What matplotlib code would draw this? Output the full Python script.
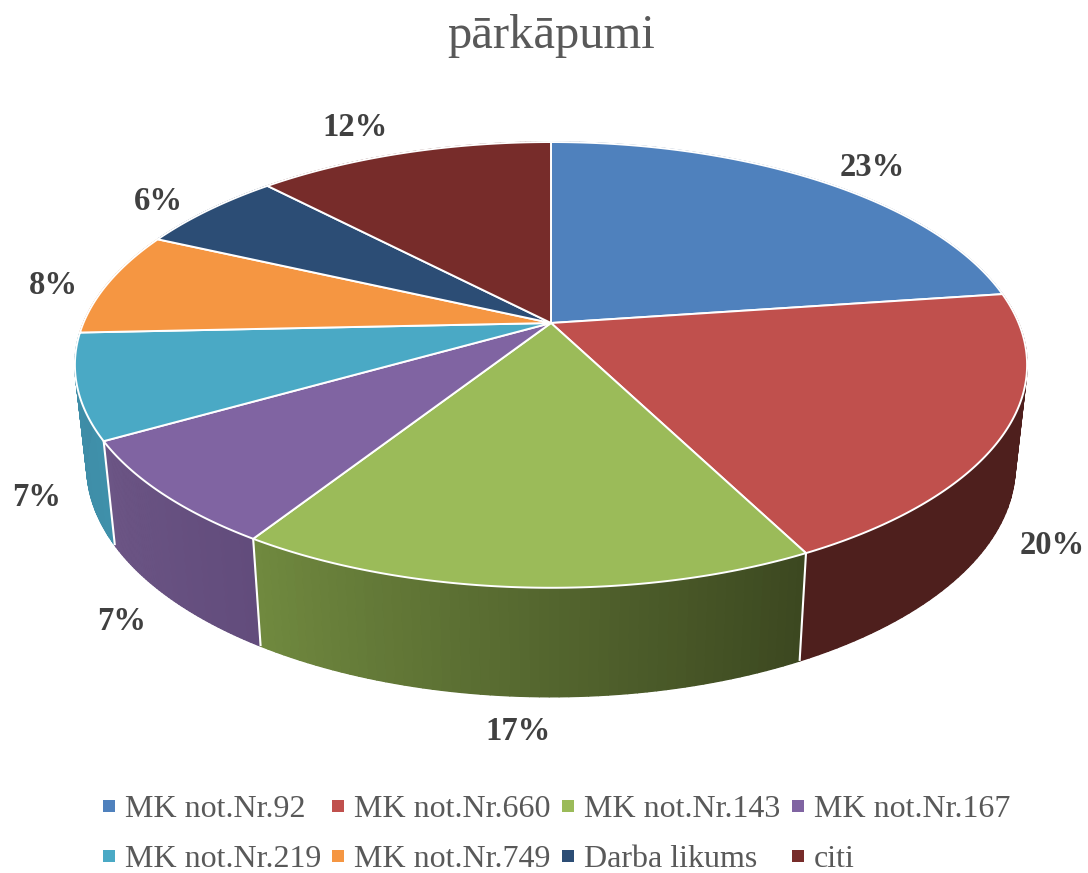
import numpy as np
import matplotlib
matplotlib.use("Agg")
import matplotlib.pyplot as plt
from matplotlib.collections import PolyCollection
from matplotlib.colors import to_rgb
from matplotlib.lines import Line2D
from matplotlib.patches import Polygon

# ---- data ----
title = "pārkāpumi"
categories = ["MK not.Nr.92", "MK not.Nr.660", "MK not.Nr.143", "MK not.Nr.167",
              "MK not.Nr.219", "MK not.Nr.749", "Darba likums", "citi"]
shares = [22.8, 19.7, 16.5, 7.7, 7.6, 7.6, 6.0, 12.1]
share_labels = ["23%", "20%", "17%", "7%", "7%", "8%", "6%", "12%"]

# ---- styles ----
colors = ["#4F81BD", "#C0504D", "#9BBB59", "#8064A2", "#4AA9C5", "#F59642", "#2C4D75", "#772C2A"]
side_start = ["#3A5F8B", "#4E1F1D", "#3C4820", "#624C7C", "#3F90AA", "#B56E30", "#20385A", "#571F1E"]
side_end = ["#3A5F8B", "#4E1F1D", "#70893F", "#6C5585", "#3E8CA6", "#B56E30", "#20385A", "#571F1E"]
label_xy = [(872, 167), (1052, 545), (518, 732), (122, 621), (37, 498), (53, 285), (158, 202), (355, 128)]
text_grey = "#595959"
label_grey = "#404040"
CX, CY = 551, 323
K, A, B = 0.188, 215.0, 467.6      # perspective of the top disc
SX, SY, DY = 0.975, 1.034, -100.0  # lower rim relative to the top rim

plt.rcParams["font.family"] = ["Liberation Serif", "DejaVu Serif"]


def rim_rel(theta):
    """Top rim, relative to apex; theta in radians clockwise from 12 o'clock."""
    u, v = np.sin(theta), np.cos(theta)
    d = 1 + K * v
    return B * u / d, A * v / d


def top_rim(theta):
    x, y = rim_rel(theta)
    return CX + x, CY - y


def low_rim(theta):
    x, y = rim_rel(theta)
    return CX + SX * x, CY - (SY * y + DY)


fig = plt.figure(figsize=(10.88, 8.73), dpi=100)
ax = fig.add_axes([0, 0, 1, 1])
ax.set_xlim(0, 1088)
ax.set_ylim(873, 0)
ax.axis("off")

edges = 2 * np.pi * np.cumsum([0] + shares) / sum(shares)
mids = (edges[:-1] + edges[1:]) / 2

# sides, from the back of the pie to the front
for i in np.argsort(-np.cos(mids)):
    t = np.linspace(edges[i], edges[i + 1], 60)
    xa, ya = top_rim(t)
    xb, yb = low_rim(t)
    c0, c1 = np.array(to_rgb(side_start[i])), np.array(to_rgb(side_end[i]))
    # solid base so the gradient strips leave no seams
    ax.add_patch(Polygon(np.column_stack([np.r_[xa, xb[::-1]], np.r_[ya, yb[::-1]]]),
                         closed=True, facecolor=(c0 + c1) / 2, edgecolor="none", zorder=2))
    quads, cols = [], []
    for j in range(len(t) - 1):
        quads.append([(xa[j], ya[j]), (xa[j + 1], ya[j + 1]), (xb[j + 1], yb[j + 1]), (xb[j], yb[j])])
        f = j / (len(t) - 2)
        cols.append(c0 * (1 - f) + c1 * f)
    ax.add_collection(PolyCollection(quads, facecolors=cols, edgecolors=cols, linewidths=1.0, zorder=2))

# white seams on the visible side
for e in edges:
    if np.cos(e) < -0.2:
        xa, ya = top_rim(e)
        xb, yb = low_rim(e)
        ax.plot([xa, xb], [ya, yb], color="white", lw=1.5, zorder=3, solid_capstyle="butt")

# top faces
for i in range(len(shares)):
    t = np.linspace(edges[i], edges[i + 1], 120)
    x, y = top_rim(t)
    pts = np.column_stack([np.r_[CX, x], np.r_[CY, y]])
    ax.add_patch(Polygon(pts, closed=True, facecolor=colors[i], edgecolor="white",
                         linewidth=1.4, joinstyle="round", zorder=4))

# percentage labels
for s, (x, y) in zip(share_labels, label_xy):
    ax.text(x, y, s, ha="center", va="center", fontsize=23.5, fontweight="bold",
            color=label_grey, zorder=5)

ax.text(551, 36, title, ha="center", va="center", fontsize=35, color=text_grey)

# legend (matplotlib fills columns first, the reference reads by rows)
handles = [Line2D([], [], linestyle="none", marker="s", markersize=8, color=c, markeredgewidth=0)
           for c in colors]
order = [0, 4, 1, 5, 2, 6, 3, 7]
fig.legend([handles[i] for i in order], [categories[i] for i in order],
           ncol=4, loc="lower left", bbox_to_anchor=(103 / 1088, 1 - 874 / 873),
           frameon=False, fontsize=23, labelcolor=text_grey, handlelength=0.35,
           handletextpad=0.33, columnspacing=0.36, labelspacing=0.65, borderpad=0,
           borderaxespad=0, numpoints=1)

fig.savefig("out.png", dpi=100)
